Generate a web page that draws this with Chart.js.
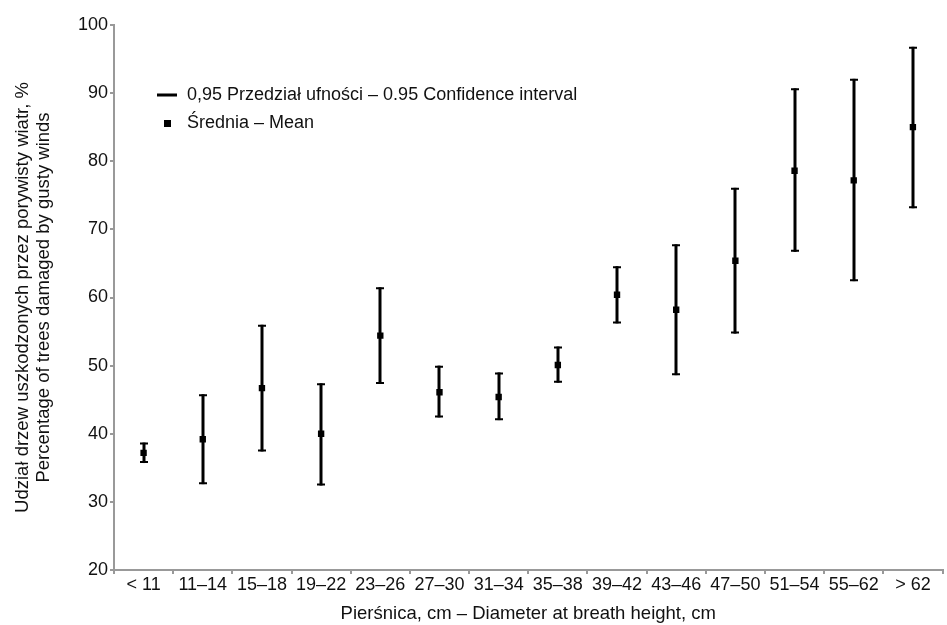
<!DOCTYPE html>
<html>
<head>
<meta charset="utf-8">
<script src="https://cdn.jsdelivr.net/npm/chart.js@4/dist/chart.umd.min.js"></script>
<style>
	html, body { margin: 0; padding: 0; background: #fff; }
	#wrap { width: 947px; height: 625px; }
</style>
</head>
<body>
<div id="wrap"><canvas id="chart" width="947" height="625"></canvas></div>
<script>
const categories = ['< 11', '11–14', '15–18', '19–22', '23–26', '27–30', '31–34', '35–38', '39–42', '43–46', '47–50', '51–54', '55–62', '> 62'];
const means = [37.2, 39.2, 46.7, 40.0, 54.4, 46.1, 45.4, 50.1, 60.4, 58.2, 65.4, 78.6, 77.2, 85.0];
const lowerCI = [35.7, 32.6, 37.4, 32.4, 47.3, 42.4, 42.0, 47.5, 56.2, 48.6, 54.7, 66.7, 62.4, 73.1];
const upperCI = [38.7, 45.8, 56.0, 47.4, 61.5, 50.0, 49.0, 52.8, 64.6, 67.8, 76.1, 90.7, 92.1, 96.8];
const yTicks = [20, 30, 40, 50, 60, 70, 80, 90, 100];

const axisColor = '#999';
const textColor = '#111';
const fontFamily = '"Liberation Sans", Arial, sans-serif';

// whiskers for the confidence intervals, drawn under the mean markers
const errorBars = {
	id: 'errorBars',
	beforeDatasetsDraw(chart) {
		const { ctx, scales: { x, y } } = chart;
		ctx.save();
		ctx.strokeStyle = '#000';
		ctx.lineCap = 'butt';
		categories.forEach((c, i) => {
			const px = Math.round(x.getPixelForValue(i));
			const top = y.getPixelForValue(upperCI[i]);
			const bot = y.getPixelForValue(lowerCI[i]);
			ctx.lineWidth = 3;
			ctx.beginPath();
			ctx.moveTo(px, top);
			ctx.lineTo(px, bot);
			ctx.stroke();
			ctx.lineWidth = 2;
			ctx.beginPath();
			ctx.moveTo(px - 4, top + 1);
			ctx.lineTo(px + 4, top + 1);
			ctx.moveTo(px - 4, bot - 1);
			ctx.lineTo(px + 4, bot - 1);
			ctx.stroke();
		});
		ctx.restore();
	},
};

// legend sits inside the plot, top left
const innerLegend = {
	id: 'innerLegend',
	afterDraw(chart) {
		const { ctx, chartArea } = chart;
		const lx = chartArea.left + 43;
		const ly = chartArea.top + 70;
		ctx.save();
		ctx.fillStyle = '#000';
		ctx.fillRect(lx, ly - 1.5, 20, 3);
		ctx.fillRect(lx + 7, ly + 25, 7, 7);
		ctx.fillStyle = textColor;
		ctx.font = '18px ' + fontFamily;
		ctx.textBaseline = 'middle';
		ctx.fillText('0,95 Przedział ufności – 0.95 Confidence interval', lx + 30, ly);
		ctx.fillText('Średnia – Mean', lx + 30, ly + 28);
		ctx.restore();
	},
};

new Chart(document.querySelector('#chart'), {
	type: 'line',
	data: {
		labels: categories,
		datasets: [
			{
				label: 'Średnia – Mean',
				data: means,
				showLine: false,
				pointStyle: 'rect',
				pointRadius: 4.5,
				pointHoverRadius: 4.5,
				backgroundColor: '#000',
				borderColor: '#000',
				borderWidth: 0,
			},
		],
	},
	options: {
		responsive: false,
		animation: false,
		layout: { padding: { top: 25, right: 1, left: 0, bottom: 0 } },
		plugins: {
			legend: { display: false },
			tooltip: { enabled: false },
		},
		scales: {
			x: {
				offset: true,
				grid: { display: true, offset: true, drawOnChartArea: false, drawTicks: true, tickLength: 4, color: axisColor, lineWidth: 2 },
				border: { color: axisColor, width: 2 },
				ticks: { color: textColor, font: { size: 18, family: fontFamily }, padding: 0, maxRotation: 0, autoSkip: false },
				title: { display: true, text: 'Pierśnica, cm – Diameter at breath height, cm', color: textColor, font: { size: 18.5, family: fontFamily }, padding: { top: 6, bottom: 0 } },
				afterFit(scale) { scale.height = 55; },
			},
			y: {
				min: 20,
				max: 100,
				afterBuildTicks(scale) { scale.ticks = yTicks.map(v => ({ value: v })); },
				grid: { display: true, drawOnChartArea: false, drawTicks: true, tickLength: 4, color: axisColor, lineWidth: 2 },
				border: { color: axisColor, width: 2 },
				ticks: { color: textColor, font: { size: 18, family: fontFamily }, padding: 2 },
				title: {
					display: true,
					text: ['Udział drzew uszkodzonych przez porywisty wiatr, %', 'Percentage of trees damaged by gusty winds'],
					color: textColor,
					font: { size: 18.5, family: fontFamily, lineHeight: 1.15 },
					padding: { top: 12, bottom: 0 },
				},
				afterFit(scale) { scale.width = 114; },
			},
		},
	},
	plugins: [errorBars, innerLegend],
});
</script>
</body>
</html>
